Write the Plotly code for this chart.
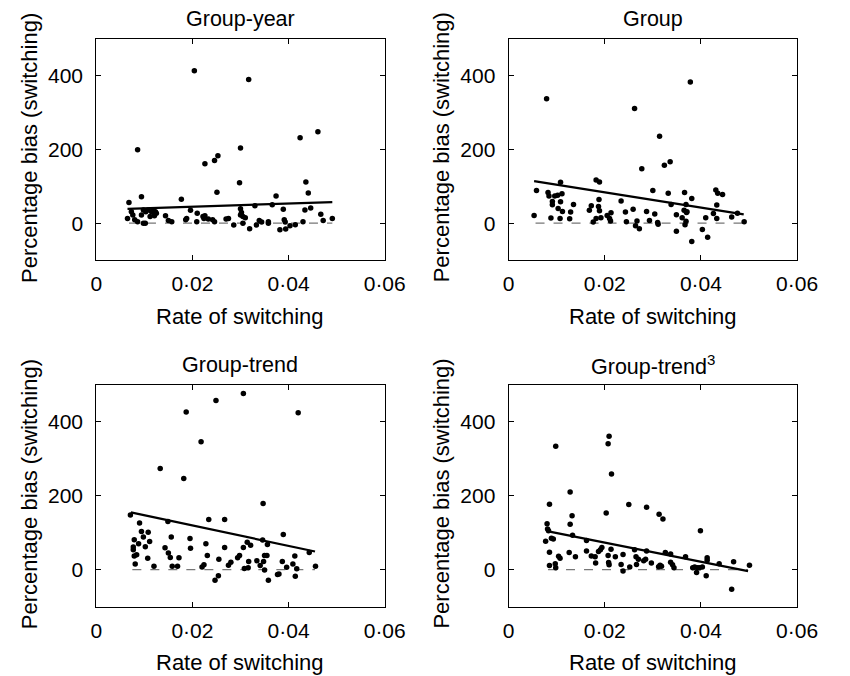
import plotly.graph_objects as go

# ---------------- data ----------------
titles = ["Group-year", "Group", "Group-trend", "Group-trend<sup>3</sup>"]
x_tick_vals = [0, 0.02, 0.04, 0.06]
x_tick_text = ["0", "0·02", "0·04", "0·06"]
y_tick_vals = [0, 200, 400]
y_tick_text = ["0", "200", "400"]
x_label = "Rate of switching"
y_label = "Percentage bias (switching)"

gy_x = [0.0204, 0.0317, 0.0086, 0.0461, 0.0424, 0.0300, 0.0226, 0.0246, 0.0253, 0.0298,
        0.0436, 0.0251, 0.0441, 0.0094, 0.0177, 0.0374, 0.0068, 0.0330, 0.0366, 0.0446,
        0.0434, 0.0300, 0.0196, 0.0389, 0.0467, 0.0065, 0.0073, 0.0076, 0.0080, 0.0086,
        0.0094, 0.0098, 0.0102, 0.0098, 0.0103, 0.0108, 0.0112, 0.0119, 0.0121, 0.0123,
        0.0125, 0.0115, 0.0144, 0.0150, 0.0157, 0.0188, 0.0186, 0.0209, 0.0210, 0.0222,
        0.0224, 0.0226, 0.0233, 0.0242, 0.0246, 0.0270, 0.0275, 0.0286, 0.0300, 0.0302,
        0.0305, 0.0310, 0.0305, 0.0319, 0.0333, 0.0339, 0.0344, 0.0358, 0.0358, 0.0382,
        0.0391, 0.0393, 0.0394, 0.0403, 0.0414, 0.0430, 0.0472, 0.0491]
gy_y = [414, 390, 199, 248, 232, 204, 161, 170, 183, 110,
        112, 84, 82, 72, 65, 74, 56, 47, 50, 41,
        36, 39, 35, 38, 24, 13, 31, 22, 9, 4,
        22, 0, 0, 36, 31, 36, 18, 36, 20, 31,
        27, 31, 20, 7, 4, 13, 9, 4, 27, 18,
        13, 20, 11, 9, 4, 11, 13, -5, 22, 29,
        18, 15, 0, -15, -5, 7, 3, 4, 0, -18,
        9, 3, -16, -7, -4, 4, 7, 13]
gy_fit_x = [0.0065, 0.0491]
gy_fit_y = [39, 57]
gy_zero_x = [0.0068, 0.0491]

g_x = [0.0079, 0.0378, 0.0262, 0.0314, 0.0324, 0.0336, 0.0277, 0.0108, 0.0182, 0.0189,
       0.0058, 0.0082, 0.0084, 0.0096, 0.0102, 0.0111, 0.0091, 0.0091, 0.0108, 0.0103,
       0.0112, 0.0135, 0.0129, 0.0053, 0.0088, 0.0107, 0.0127, 0.0172, 0.0168, 0.0187,
       0.0188, 0.0189, 0.0182, 0.0176, 0.0192, 0.0205, 0.0213, 0.0210, 0.0212, 0.0234,
       0.0243, 0.0245, 0.0259, 0.0264, 0.0267, 0.0272, 0.0287, 0.0293, 0.0300, 0.0304,
       0.0310, 0.0311, 0.0332, 0.0338, 0.0349, 0.0349, 0.0361, 0.0366, 0.0369, 0.0365,
       0.0370, 0.0367, 0.0369, 0.0371, 0.0381, 0.0381, 0.0403, 0.0410, 0.0414, 0.0426,
       0.0431, 0.0435, 0.0433, 0.0433, 0.0445, 0.0464, 0.0476, 0.0490]
g_y = [338, 383, 311, 236, 157, 167, 148, 111, 117, 112,
       89, 83, 74, 74, 76, 80, 59, 50, 58, 40,
       32, 51, 30, 21, 14, 13, 12, 47, 35, 45,
       64, 34, 13, 3, 15, 21, 28, 13, 6, 60,
       30, 4, 38, -7, 6, -15, 32, 7, 89, 25,
       2, -3, 81, 51, 23, -22, 15, 83, 51, 35,
       29, -4, 5, 31, 67, -50, -17, 15, -38, 26,
       90, 81, 49, 13, 78, 17, 27, 4]
g_fit_x = [0.0053, 0.0489]
g_fit_y = [114, 24]
g_zero_x = [0.0056, 0.0491]

gt_x = [0.0306, 0.0249, 0.0187, 0.0420, 0.0218, 0.0133, 0.0182, 0.0347, 0.0071, 0.0090,
        0.0149, 0.0234, 0.0267, 0.0094, 0.0108, 0.0098, 0.0111, 0.0102, 0.0156, 0.0195,
        0.0079, 0.0088, 0.0077, 0.0077, 0.0079, 0.0084, 0.0081, 0.0107, 0.0120, 0.0143,
        0.0150, 0.0154, 0.0158, 0.0169, 0.0172, 0.0196, 0.0228, 0.0231, 0.0224, 0.0220,
        0.0247, 0.0254, 0.0255, 0.0267, 0.0275, 0.0280, 0.0294, 0.0298, 0.0306, 0.0314,
        0.0321, 0.0308, 0.0316, 0.0317, 0.0334, 0.0341, 0.0346, 0.0350, 0.0355, 0.0356,
        0.0348, 0.0350, 0.0358, 0.0377, 0.0380, 0.0387, 0.0389, 0.0396, 0.0409, 0.0413,
        0.0414, 0.0417, 0.0443, 0.0456]
gt_y = [477, 458, 427, 425, 346, 274, 247, 179, 148, 126,
        130, 136, 136, 103, 101, 88, 76, 62, 88, 84,
        81, 70, 61, 54, 37, 40, 15, 31, 9, 59,
        45, 33, 9, 9, 32, 58, 70, 38, 13, 7,
        -29, -17, 28, 60, 12, 20, 32, 38, 60, 74,
        66, 3, 5, 22, 24, 11, 80, 38, 38, 68,
        22, -1, -29, -13, -12, 22, 95, 6, 15, 37,
        -18, 2, 46, 9]
gt_fit_x = [0.0072, 0.0455]
gt_fit_y = [155, 49]
gt_zero_x = [0.0075, 0.0455]

gt3_x = [0.0209, 0.0207, 0.0098, 0.0214, 0.0128, 0.0085, 0.0250, 0.0287, 0.0313, 0.0321,
         0.0203, 0.0132, 0.0080, 0.0128, 0.0399, 0.0081, 0.0083, 0.0133, 0.0089, 0.0093,
         0.0077, 0.0162, 0.0085, 0.0104, 0.0107, 0.0126, 0.0139, 0.0085, 0.0097, 0.0098,
         0.0162, 0.0172, 0.0180, 0.0181, 0.0187, 0.0191, 0.0194, 0.0207, 0.0208, 0.0209,
         0.0213, 0.0222, 0.0234, 0.0238, 0.0238, 0.0252, 0.0262, 0.0265, 0.0270, 0.0266,
         0.0281, 0.0285, 0.0287, 0.0297, 0.0312, 0.0315, 0.0318, 0.0326, 0.0337, 0.0337,
         0.0341, 0.0344, 0.0368, 0.0383, 0.0387, 0.0391, 0.0393, 0.0397, 0.0403, 0.0411,
         0.0413, 0.0413, 0.0438, 0.0464, 0.0468, 0.0501]
gt3_y = [361, 341, 334, 259, 210, 177, 176, 169, 150, 137,
         153, 146, 124, 123, 105, 110, 105, 93, 85, 83,
         77, 79, 47, 36, 31, 46, 35, 11, 16, 5,
         50, 37, 35, 18, 49, 54, 60, 38, 19, 13,
         55, 35, 14, 41, -4, 7, 54, 35, 28, 14,
         24, 28, 50, 18, 8, 12, 9, 46, 42, 20,
         13, 5, 35, 5, 7, -8, 5, 5, 7, -17,
         32, 25, 16, -53, 21, 12]
gt3_fit_x = [0.0080, 0.0498]
gt3_fit_y = [104, -4]
gt3_zero_x = [0.0082, 0.0498]

panels = [
    (gy_x, gy_y, gy_fit_x, gy_fit_y, gy_zero_x),
    (g_x, g_y, g_fit_x, g_fit_y, g_zero_x),
    (gt_x, gt_y, gt_fit_x, gt_fit_y, gt_zero_x),
    (gt3_x, gt3_y, gt3_fit_x, gt3_fit_y, gt3_zero_x),
]

# ---------------- layout (pixels) ----------------
OFF = 8                      # page body margin
W, H = 850 - OFF, 676 - OFF
# plot boxes in page pixels: (left, right, top, bottom)
boxes = [(93, 391, 39, 260), (519, 817, 39, 260),
         (93, 391, 385, 606.5), (519, 817, 385, 606.5)]

FONT = "Liberation Sans, Arial, Helvetica, sans-serif"

def px(xp):
    return (xp - OFF) / W

def py(yp):
    return 1 - (yp - OFF) / H

fig = go.Figure()
annotations = []
layout_axes = {}
for i, (dx, dy, fx, fy, zx) in enumerate(panels):
    n = i + 1
    xa = "x" if n == 1 else f"x{n}"
    ya = "y" if n == 1 else f"y{n}"
    fig.add_trace(go.Scatter(x=zx, y=[0, 0], mode="lines", xaxis=xa, yaxis=ya,
                             line=dict(color="#777777", width=1.3, dash="dash"),
                             showlegend=False, hoverinfo="skip"))
    fig.add_trace(go.Scatter(x=dx, y=dy, mode="markers", xaxis=xa, yaxis=ya,
                             marker=dict(color="black", size=5.5, line=dict(width=0)),
                             showlegend=False))
    fig.add_trace(go.Scatter(x=fx, y=fy, mode="lines", xaxis=xa, yaxis=ya,
                             line=dict(color="black", width=2.2),
                             showlegend=False, hoverinfo="skip"))
    l, r, t, b = boxes[i]
    xkey = "xaxis" if n == 1 else f"xaxis{n}"
    ykey = "yaxis" if n == 1 else f"yaxis{n}"
    layout_axes[xkey] = dict(
        domain=[px(l), px(r)], anchor=ya, range=[0, 0.06],
        tickvals=x_tick_vals, ticktext=x_tick_text, ticks="inside", ticklen=5,
        tickcolor="black", showline=True, linecolor="black", linewidth=1,
        mirror="ticks", showgrid=False, zeroline=False,
        tickfont=dict(size=21, color="black", family=FONT), ticklabelstandoff=5)
    layout_axes[ykey] = dict(
        domain=[py(b), py(t)], anchor=xa, range=[-100, 500],
        tickvals=y_tick_vals, ticktext=y_tick_text, ticks="inside", ticklen=5,
        tickcolor="black", showline=True, linecolor="black", linewidth=1,
        mirror="ticks", showgrid=False, zeroline=False,
        tickfont=dict(size=21, color="black", family=FONT), ticklabelstandoff=8)
    cx = (l + r) / 2
    cy = (t + b) / 2
    annotations.append(dict(text=titles[i], x=px(cx), y=py(t - 20),
                            xref="paper", yref="paper", showarrow=False,
                            xanchor="center", yanchor="middle", borderpad=0,
                            font=dict(size=21.5, color="black", family=FONT)))
    annotations.append(dict(text=x_label, x=px(cx), y=py(b + 56),
                            xref="paper", yref="paper", showarrow=False,
                            xanchor="center", yanchor="middle", borderpad=0,
                            font=dict(size=22, color="black", family=FONT)))
    annotations.append(dict(text=y_label, x=px(l - 69), y=py(cy - 2),
                            xref="paper", yref="paper", showarrow=False,
                            xanchor="center", yanchor="middle", textangle=-90,
                            borderpad=0,
                            font=dict(size=22, color="black", family=FONT)))

fig.update_layout(
    width=W, height=H, margin=dict(l=0, r=0, t=0, b=0),
    paper_bgcolor="white", plot_bgcolor="white",
    font=dict(family=FONT, color="black"),
    annotations=annotations, showlegend=False, **layout_axes)

fig.write_html("out.html")
